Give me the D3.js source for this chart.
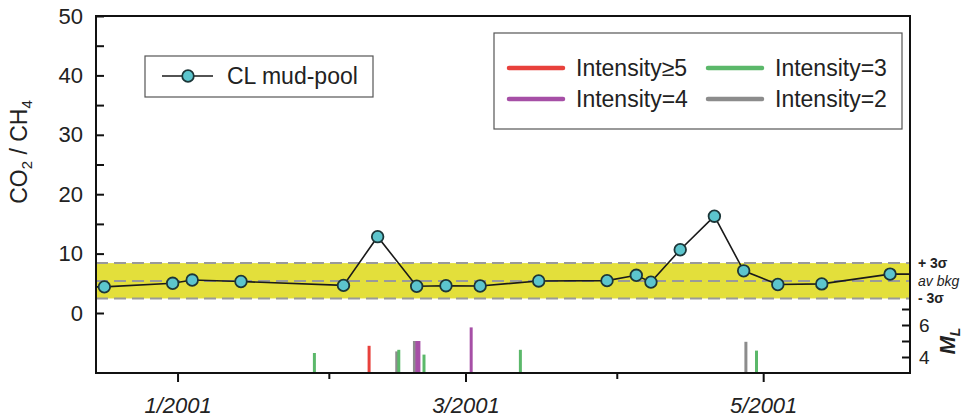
<!DOCTYPE html>
<html>
<head>
<meta charset="utf-8">
<script src="https://cdn.jsdelivr.net/npm/d3@7"></script>
<style>
  body { margin: 0; background: #fff; }
  svg { display: block; font-family: 'Liberation Sans', Arial, sans-serif; }
</style>
</head>
<body>
<div id="chart"></div>
<script>

// CL mud-pool samples (CO2 / CH4), first and last lie just outside the plotted window
var sampleDates = ['2000-12-08', '2000-12-17', '2000-12-31', '2001-01-04', '2001-01-14', '2001-02-04',
  '2001-02-11', '2001-02-19', '2001-02-25', '2001-03-04', '2001-03-16', '2001-03-30',
  '2001-04-05', '2001-04-08', '2001-04-14', '2001-04-21', '2001-04-27', '2001-05-04',
  '2001-05-13', '2001-05-27', '2001-06-06'];
var co2ch4 = [4.4, 4.4, 5.0, 5.55, 5.3, 4.65,
  12.85, 4.5, 4.6, 4.55, 5.4, 5.45,
  6.35, 5.2, 10.65, 16.3, 7.1, 4.8,
  4.9, 6.55, 6.55];

// background levels
var bkgLevels = [8.4, 5.4, 2.45];
var bkgLabels = ['+ 3\u03c3', 'av bkg', '- 3\u03c3'];

// seismic events: date, local magnitude, intensity
var quakeDates = ['2001-01-29 01', '2001-02-09 06', '2001-02-14 22', '2001-02-15 08', '2001-02-18 13',
  '2001-02-19 01', '2001-02-19 11', '2001-02-20 12', '2001-03-02 04', '2001-03-12 06',
  '2001-04-27 11', '2001-04-29 15'];
var quakeML = [4.25, 4.7, 4.35, 4.45, 5.0, 5.0, 5.0, 4.15, 5.85, 4.45, 4.95, 4.4];
var quakeIntensity = [3, 5, 2, 3, 2, 4, 4, 3, 4, 3, 2, 3];

var intensityKeys = [5, 3, 4, 2];
var intensityLabels = ['Intensity\u22655', 'Intensity=3', 'Intensity=4', 'Intensity=2'];

// axis ticks
var yTicks = [0, 5, 10, 15, 20, 25, 30, 35, 40, 45, 50];
var monthTicks = ['2001-01-01', '2001-02-01', '2001-03-01', '2001-04-01', '2001-05-01'];
var monthLabels = ['1/2001', '', '3/2001', '', '5/2001'];
var mlTicks = [4, 5, 6, 7];
var mlLabels = ['4', '', '6', ''];

var colors = { 5: '#e8413c', 4: '#a64fa6', 3: '#5bb86a', 2: '#8c8c8c' };

var W = 968, H = 420;
// plot frame (note: 'top' is reserved on window)
var plotL = 96, plotR = 910, plotT = 16, plotB = 373;

var parseDay = d3.utcParse('%Y-%m-%d');
var parseHour = d3.utcParse('%Y-%m-%d %H');

var samples = sampleDates.map(function(d, i) { return { date: parseDay(d), value: co2ch4[i] }; });
var quakes = quakeDates.map(function(d, i) {
  return { date: parseHour(d), ml: quakeML[i], intensity: quakeIntensity[i] };
});

var x = d3.scaleUtc()
  .domain([new Date(Date.UTC(2000, 11, 15, 7)), new Date(Date.UTC(2001, 4, 31, 2))])
  .range([plotL, plotR]);

var y = d3.scaleLinear().domain([-10.1, 50]).range([plotB, plotT]);

// lower panel: magnitude axis on the right
var ml = d3.scaleLinear().domain([3, 7]).range([plotB, 309]);

var svg = d3.select('#chart').append('svg')
  .attr('width', W)
  .attr('height', H);

svg.append('clipPath').attr('id', 'plot-clip')
  .append('rect')
    .attr('x', plotL).attr('y', plotT)
    .attr('width', plotR - plotL).attr('height', plotB - plotT);

// Left axis, ticks inward
var yAxis = svg.append('g')
  .attr('transform', 'translate(' + plotL + ',0)')
  .call(d3.axisLeft(y)
    .tickValues(yTicks)
    .tickSizeInner(-8)
    .tickSizeOuter(0)
    .tickPadding(13)
    .tickFormat(function(d) { return d % 10 === 0 ? d : ''; }));
yAxis.select('.domain').remove();
yAxis.selectAll('line').attr('stroke', '#111').attr('stroke-width', 2);
yAxis.selectAll('text').attr('font-size', 22).attr('fill', '#222')
  .attr('font-family', "'Liberation Sans', Arial, sans-serif");

// Bottom time axis
var xAxis = svg.append('g')
  .attr('transform', 'translate(0,' + plotB + ')')
  .call(d3.axisBottom(x)
    .tickValues(monthTicks.map(function(d) { return parseDay(d); }))
    .tickSizeInner(9)
    .tickSizeOuter(0)
    .tickPadding(15)
    .tickFormat(function(d, i) { return monthLabels[i]; }));
xAxis.select('.domain').remove();
xAxis.selectAll('line').attr('stroke', '#111').attr('stroke-width', 2)
  .attr('y2', function(d, i) { return monthLabels[i] ? 9 : 6; });
xAxis.selectAll('text').attr('font-size', 22).attr('font-style', 'italic').attr('fill', '#222')
  .attr('font-family', "'Liberation Sans', Arial, sans-serif");

// Right magnitude axis, ticks inward
var mAxis = svg.append('g')
  .attr('transform', 'translate(' + plotR + ',0)')
  .call(d3.axisRight(ml)
    .tickValues(mlTicks)
    .tickSizeInner(-8)
    .tickSizeOuter(0)
    .tickPadding(9)
    .tickFormat(function(d, i) { return mlLabels[i]; }));
mAxis.select('.domain').remove();
mAxis.selectAll('line').attr('stroke', '#111').attr('stroke-width', 2);
mAxis.selectAll('text').attr('font-size', 19).attr('fill', '#222')
  .attr('font-family', "'Liberation Sans', Arial, sans-serif");

// background band +/- 3 sigma
svg.append('rect')
  .attr('x', plotL)
  .attr('y', y(bkgLevels[0]))
  .attr('width', plotR - plotL)
  .attr('height', y(bkgLevels[2]) - y(bkgLevels[0]))
  .attr('fill', '#e3df3b');

svg.selectAll('.bkg').data(bkgLevels)
  .enter().append('line')
    .attr('class', 'bkg')
    .attr('x1', plotL).attr('x2', plotR)
    .attr('y1', function(d) { return y(d); })
    .attr('y2', function(d) { return y(d); })
    .attr('stroke', '#9a9a9a')
    .attr('stroke-width', 2)
    .attr('stroke-dasharray', '12,6');

svg.selectAll('.bkg-label').data(bkgLevels)
  .enter().append('text')
    .attr('class', 'bkg-label')
    .attr('x', 918)
    .attr('y', function(d) { return y(d); })
    .attr('dy', '0.35em')
    .attr('font-size', 14)
    .attr('font-style', function(d, i) { return i === 1 ? 'italic' : 'normal'; })
    .attr('font-weight', function(d, i) { return i === 1 ? 'normal' : 'bold'; })
    .attr('fill', '#222')
    .text(function(d, i) { return bkgLabels[i]; });

// seismic events
svg.selectAll('.quake').data(quakes)
  .enter().append('line')
    .attr('class', 'quake')
    .attr('x1', function(d) { return x(d.date); })
    .attr('x2', function(d) { return x(d.date); })
    .attr('y1', ml(3))
    .attr('y2', function(d) { return ml(d.ml); })
    .attr('stroke', function(d) { return colors[d.intensity]; })
    .attr('stroke-width', 3);

// gas ratio series
var line = d3.line()
  .x(function(d) { return x(d.date); })
  .y(function(d) { return y(d.value); });

svg.append('path')
  .datum(samples)
  .attr('clip-path', 'url(#plot-clip)')
  .attr('d', line)
  .attr('fill', 'none')
  .attr('stroke', '#1a1a1a')
  .attr('stroke-width', 1.6);

svg.append('g').attr('clip-path', 'url(#plot-clip)')
  .selectAll('circle').data(samples)
  .enter().append('circle')
    .attr('cx', function(d) { return x(d.date); })
    .attr('cy', function(d) { return y(d.value); })
    .attr('r', 5.8)
    .attr('fill', '#5cc5cd')
    .attr('stroke', '#1c3638')
    .attr('stroke-width', 1.8);

// frame
svg.append('rect')
  .attr('x', plotL).attr('y', plotT)
  .attr('width', plotR - plotL).attr('height', plotB - plotT)
  .attr('fill', 'none')
  .attr('stroke', '#111')
  .attr('stroke-width', 2);

// axis titles
var yTitle = svg.append('text')
  .attr('transform', 'translate(27,152) rotate(-90)')
  .attr('text-anchor', 'middle')
  .attr('font-size', 23)
  .attr('fill', '#222');
yTitle.append('tspan').text('CO');
yTitle.append('tspan').attr('font-size', 15).attr('dy', 5).text('2');
yTitle.append('tspan').attr('dy', -5).text(' / CH');
yTitle.append('tspan').attr('font-size', 15).attr('dy', 5).text('4');

var mTitle = svg.append('text')
  .attr('transform', 'translate(955,341) rotate(-90)')
  .attr('text-anchor', 'middle')
  .attr('font-size', 22)
  .attr('font-style', 'italic')
  .attr('font-weight', 'bold')
  .attr('fill', '#222');
mTitle.append('tspan').text('M');
mTitle.append('tspan').attr('font-size', 14).attr('dy', 5).text('L');

// legend: sample series
var leg1 = svg.append('g');
leg1.append('rect')
  .attr('x', 145).attr('y', 56).attr('width', 228).attr('height', 41)
  .attr('fill', '#fff').attr('stroke', '#555').attr('stroke-width', 1.2);
leg1.append('line')
  .attr('x1', 162).attr('x2', 213).attr('y1', 76).attr('y2', 76)
  .attr('stroke', '#1a1a1a').attr('stroke-width', 1.6);
leg1.append('circle')
  .attr('cx', 188).attr('cy', 76).attr('r', 5.8)
  .attr('fill', '#5cc5cd').attr('stroke', '#1c3638').attr('stroke-width', 1.8);
leg1.append('text')
  .attr('x', 227).attr('y', 84)
  .attr('font-size', 23).attr('fill', '#222')
  .text('CL mud-pool');

// legend: intensity
var leg2 = svg.append('g');
leg2.append('rect')
  .attr('x', 494).attr('y', 33).attr('width', 408).attr('height', 96)
  .attr('fill', '#fff').attr('stroke', '#555').attr('stroke-width', 1.2);

var items = leg2.selectAll('.item').data(intensityKeys)
  .enter().append('g')
    .attr('class', 'item')
    .attr('transform', function(d, i) {
      return 'translate(' + (i % 2 ? 708 : 509) + ',' + (i < 2 ? 68 : 99) + ')';
    });
items.append('line')
  .attr('x1', 0).attr('x2', 54)
  .attr('stroke', function(d) { return colors[d]; })
  .attr('stroke-width', 4.5)
  .attr('stroke-linecap', 'round');
items.append('text')
  .attr('x', 67).attr('y', 8)
  .attr('font-size', 23).attr('fill', '#222')
  .text(function(d, i) { return intensityLabels[i]; });

</script>
</body>
</html>
